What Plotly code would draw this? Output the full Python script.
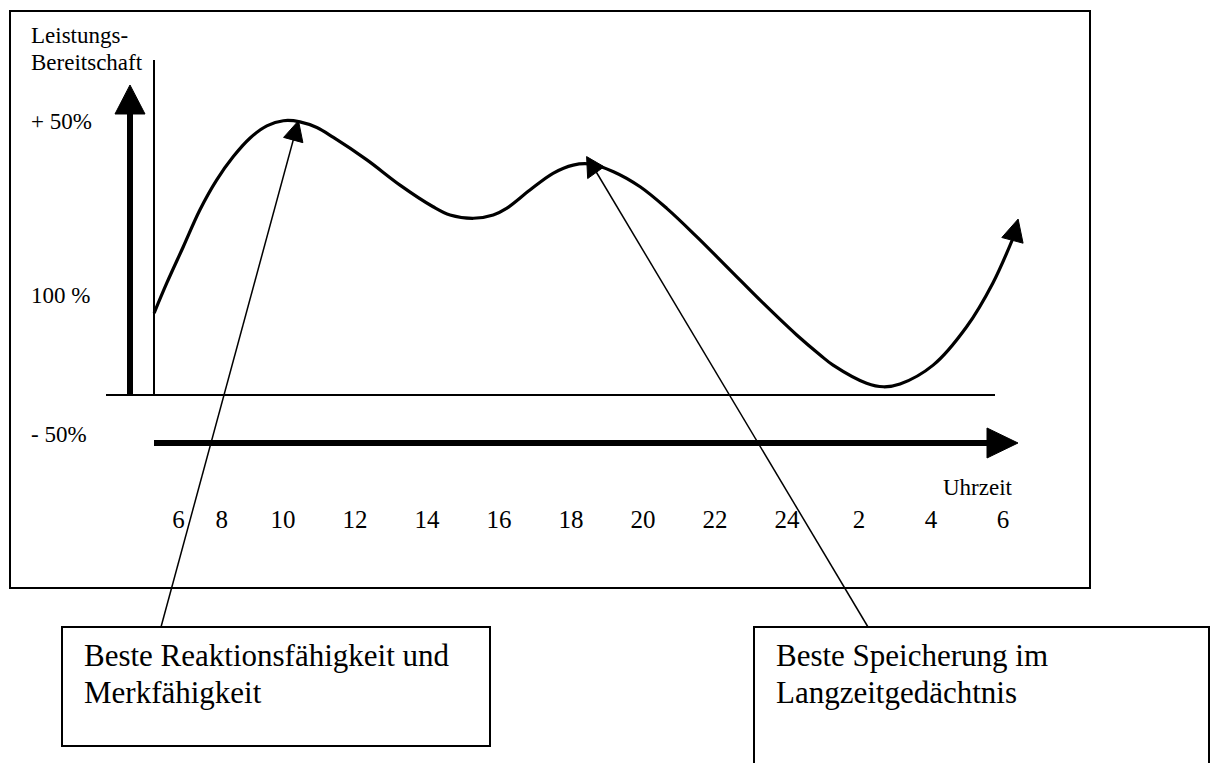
import math
import plotly.graph_objects as go

# ---------------- data ----------------
# Leistungsbereitschaft curve: time of day in hours (6 .. 30 = 6 Uhr next morning)
hours = [6.42, 6.77, 7.23, 7.69, 8.16, 8.62, 9.08, 9.55, 10.01, 10.47,
         10.94, 11.40, 12.33, 13.25, 14.17, 14.64, 15.29, 15.84, 16.21, 16.86,
         17.50, 18.06, 18.53, 19.18, 19.92, 20.66, 21.49, 22.42, 23.34, 24.27,
         24.92, 25.28, 26.21, 26.68, 27.14, 28.06, 28.99, 29.72, 30.28, 30.42]
level = [29.9, 40.8, 54.1, 67.5, 78.5, 87.0, 93.7, 98.2, 100.1, 99.7,
         97.6, 94.0, 85.8, 76.6, 68.7, 65.7, 64.5, 65.7, 68.1, 74.8,
         80.9, 83.9, 84.3, 81.5, 76.0, 68.1, 57.8, 45.6, 33.5, 21.9,
         14.6, 10.9, 4.3, 3.0, 4.0, 10.9, 24.9, 40.9, 57.3, 64.2]

x_tick_labels = ["6", "8", "10", "12", "14", "16", "18", "20", "22", "24", "2", "4", "6"]
x_tick_hours = [7.1, 8.3, 10, 12, 14, 16, 18, 20, 22, 24, 26, 28, 30]

y_tick_labels = ["+ 50%", "100 %", "- 50%"]
y_tick_levels = [100.2, 36.4, -14.1]

y_title_lines = ["Leistungs-", "Bereitschaft"]
x_title = "Uhrzeit"

callout_lines = [["Beste Reaktionsfähigkeit und", "Merkfähigkeit"],
                 ["Beste Speicherung im", "Langzeitgedächtnis"]]
callout_target_hours = [10.43, 18.92]
callout_target_levels = [100.1, 83.3]

# ---------------- geometry / style ----------------
W, H = 1212, 763
X0, X1 = 2.1389, 35.8056
Y0, Y1 = -134.31, 144.16
FONT = "Liberation Serif, Times New Roman, serif"


def data_to_px(h, lv):
    return (h - X0) / (X1 - X0) * W, (Y1 - lv) / (Y1 - Y0) * H


def pp(x, y):
    return x / W, 1 - y / H


def tri_path(tip, direction, length, half):
    dx, dy = direction
    n = math.hypot(dx, dy)
    ux, uy = dx / n, dy / n
    bx, by = tip[0] - ux * length, tip[1] - uy * length
    nx, ny = -uy, ux
    pts = [tip, (bx + nx * half, by + ny * half), (bx - nx * half, by - ny * half)]
    s = []
    for i, (x, y) in enumerate(pts):
        a, b = pp(x, y)
        s.append(("M" if i == 0 else "L") + f"{a:.5f},{b:.5f}")
    return " ".join(s) + " Z"


shapes = []


def line(x0, y0, x1, y1, w):
    a0, b0 = pp(x0, y0)
    a1, b1 = pp(x1, y1)
    shapes.append(dict(type="line", xref="paper", yref="paper", x0=a0, y0=b0, x1=a1, y1=b1,
                       line=dict(color="black", width=w)))


def rect(x0, y0, x1, y1, w):
    a0, b0 = pp(x0, y0)
    a1, b1 = pp(x1, y1)
    shapes.append(dict(type="rect", xref="paper", yref="paper", x0=a0, y0=b0, x1=a1, y1=b1,
                       line=dict(color="black", width=w), fillcolor="rgba(0,0,0,0)"))


def head(tip, direction, length, half):
    shapes.append(dict(type="path", xref="paper", yref="paper",
                       path=tri_path(tip, direction, length, half),
                       fillcolor="black", line=dict(color="black", width=1)))


# outer frame
rect(10, 11, 1090, 588, 2)
# thin vertical line and baseline
line(154, 60, 154, 395, 2)
line(106, 395, 995, 395, 2)
# thick vertical arrow
line(130, 396, 130, 110, 6)
head((130, 85), (0, -1), 29, 15)
# thick horizontal arrow
line(154, 443, 990, 443, 6)
head((1018, 443), (1, 0), 31, 15)

# callout boxes
boxes = [(62, 627, 490, 746), (754, 627, 1209, 780)]
box_anchor = [(161, 627), (868, 627)]
head_dirs = [None, (16.7, -0.8)]
head_len = [20, 17]
head_half = [10, 11]
for i in range(2):
    rect(*boxes[i], 2)
    tx, ty = data_to_px(callout_target_hours[i], callout_target_levels[i])
    ax, ay = box_anchor[i]
    ex, ey = (tx, ty) if head_dirs[i] is None else (tx - 8, ty + 5)
    line(ax, ay, ex, ey, 1.5)
    d = head_dirs[i] if head_dirs[i] else (tx - ax, ty - ay)
    head((tx, ty), d, head_len[i], head_half[i])

# curve end arrowhead
tip_px = data_to_px(hours[-1], level[-1])
prev_px = data_to_px(hours[-2], level[-2])
head(tip_px, (tip_px[0] - prev_px[0], tip_px[1] - prev_px[1]), 22, 11)

fig = go.Figure()
fig.add_trace(go.Scatter(x=hours[:-1], y=level[:-1], mode="lines",
                         line=dict(color="black", width=3.2, shape="spline", smoothing=1.0),
                         hoverinfo="skip", showlegend=False))

annotations = []


def text(s, x, y, size, xanchor="left"):
    a, b = pp(x, y)
    annotations.append(dict(text=s, x=a, y=b, xref="paper", yref="paper", showarrow=False,
                            xanchor=xanchor, yanchor="middle",
                            font=dict(family=FONT, size=size, color="black")))


text(y_title_lines[0], 29, 35.5, 23)
text(y_title_lines[1], 29, 63, 23)
text(x_title, 941, 487, 23)
for i in range(2):
    x0 = boxes[i][0] + 20
    text(callout_lines[i][0], x0, 655.5, 31)
    text(callout_lines[i][1], x0, 692.5, 31)

fig.update_layout(
    width=W, height=H, margin=dict(l=0, r=0, t=0, b=0),
    paper_bgcolor="white", plot_bgcolor="white",
    template="none", showlegend=False,
    shapes=shapes, annotations=annotations,
    xaxis=dict(range=[X0, X1], domain=[0, 1], anchor="free", position=1 - 502 / H,
               tickmode="array", tickvals=x_tick_hours, ticktext=x_tick_labels,
               showgrid=False, zeroline=False, showline=False, ticks="",
               automargin=False, fixedrange=True,
               tickfont=dict(family=FONT, size=25, color="black")),
    yaxis=dict(range=[Y0, Y1], domain=[0, 1], anchor="free", position=27 / W,
               side="left", ticklabelposition="inside",
               tickmode="array", tickvals=y_tick_levels, ticktext=y_tick_labels,
               showgrid=False, zeroline=False, showline=False, ticks="",
               automargin=False, fixedrange=True,
               tickfont=dict(family=FONT, size=23, color="black")),
)

fig.write_html("out.html", config={"displayModeBar": False},
               post_script="document.body.style.margin='0';document.body.style.overflow='hidden';")
